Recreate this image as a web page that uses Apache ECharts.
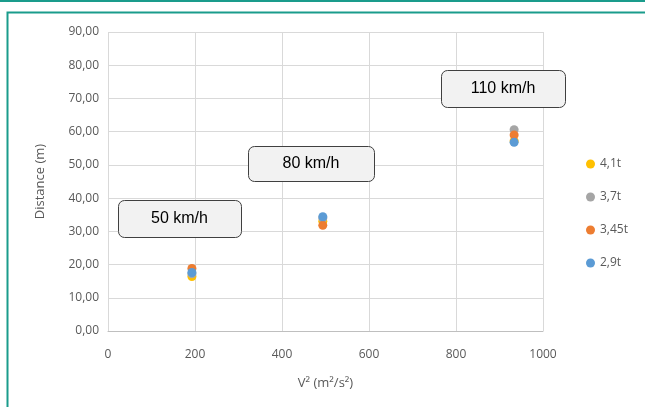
<!DOCTYPE html>
<html><head><meta charset="utf-8">
<script src="https://cdn.jsdelivr.net/npm/echarts@6/dist/echarts.min.js"></script>
<style>html,body{margin:0;padding:0;background:#fff;}#c{width:645px;height:407px;}</style>
</head><body><div id="c"></div>
<script>
// V² values (m²/s²) for 50, 80, 110 km/h
const vSquared = [192.9, 493.8, 933.6];
const seriesNames = ['4,1t', '3,7t', '3,45t', '2,9t'];
const dist41 = [16.4, 33.0, 57.2];
const dist37 = [17.2, 34.0, 60.6];
const dist345 = [18.8, 31.8, 59.0];
const dist29 = [17.6, 34.4, 56.8];
const speedLabels = ['50 km/h', '80 km/h', '110 km/h'];
const yTicks = [0, 10, 20, 30, 40, 50, 60, 70, 80, 90];

const colors = ['#FFC000', '#A5A5A5', '#ED7D31', '#5B9BD5'];
const allData = [dist41, dist37, dist345, dist29];
const FONT = '"Open Sans", "Liberation Sans", sans-serif';

const chart = echarts.init(document.getElementById('c'));
const boxes = [
  {x: 118, y: 200, w: 123, h: 37},
  {x: 248, y: 146, w: 126, h: 35},
  {x: 441, y: 70, w: 124, h: 37}
];
const graphics = [
  {type: 'line', shape: {x1: 0, y1: 1, x2: 645, y2: 1}, style: {stroke: '#1a9c8c', lineWidth: 2}, z: 100},
  {type: 'rect', shape: {x: 7.5, y: 12.5, width: 700, height: 500}, style: {fill: 'none', stroke: '#1a9c8c', lineWidth: 2}, z: 100}
];
boxes.forEach((b, i) => {
  graphics.push({type: 'rect', z: 100, shape: {x: b.x + 0.5, y: b.y + 0.5, width: b.w, height: b.h, r: 6},
    style: {fill: '#f2f2f2', stroke: '#404040', lineWidth: 1}});
  graphics.push({type: 'text', z: 101, x: b.x + b.w / 2, y: b.y + b.h / 2,
    style: {text: speedLabels[i], fill: '#000', font: '16px "Liberation Sans", Arial, sans-serif', align: 'center', verticalAlign: 'middle'}});
});

chart.setOption({
  animation: false,
  backgroundColor: '#ffffff',
  grid: {left: 108, right: 102, top: 32, bottom: 76},
  legend: {
    orient: 'vertical', left: 581, top: 153, itemGap: 21,
    icon: 'circle', itemWidth: 9, itemHeight: 9,
    data: seriesNames,
    textStyle: {color: '#595959', fontSize: 12, fontFamily: FONT, padding: [0, 0, 0, 0]}
  },
  xAxis: {
    type: 'value', min: 0, max: 1000, interval: 200,
    name: 'V² (m²/s²)', nameLocation: 'middle', nameGap: 46,
    nameTextStyle: {color: '#595959', fontSize: 13, fontFamily: FONT},
    axisLine: {show: true, lineStyle: {color: '#bfbfbf'}},
    axisTick: {show: false},
    axisLabel: {color: '#595959', fontSize: 12, fontFamily: FONT, margin: 18,
      formatter: v => String(v)},
    splitLine: {show: true, lineStyle: {color: '#d9d9d9'}}
  },
  yAxis: {
    type: 'value', min: 0, max: 90, interval: 10,
    name: 'Distance (m)', nameLocation: 'middle', nameGap: 61, nameRotate: 90,
    nameTextStyle: {color: '#595959', fontSize: 13, fontFamily: FONT},
    axisLine: {show: false},
    axisTick: {show: false},
    axisLabel: {color: '#595959', fontSize: 12, fontFamily: FONT, margin: 9,
      formatter: v => yTicks.indexOf(v) >= 0 ? v.toFixed(2).replace('.', ',') : ''},
    splitLine: {show: true, lineStyle: {color: '#d9d9d9'}}
  },
  series: seriesNames.map((n, i) => ({
    name: n, type: 'scatter', symbol: 'circle', symbolSize: 9,
    itemStyle: {color: colors[i], opacity: 1},
    data: vSquared.map((x, j) => [x, allData[i][j]])
  })),
  graphic: graphics
});
</script></body></html>
